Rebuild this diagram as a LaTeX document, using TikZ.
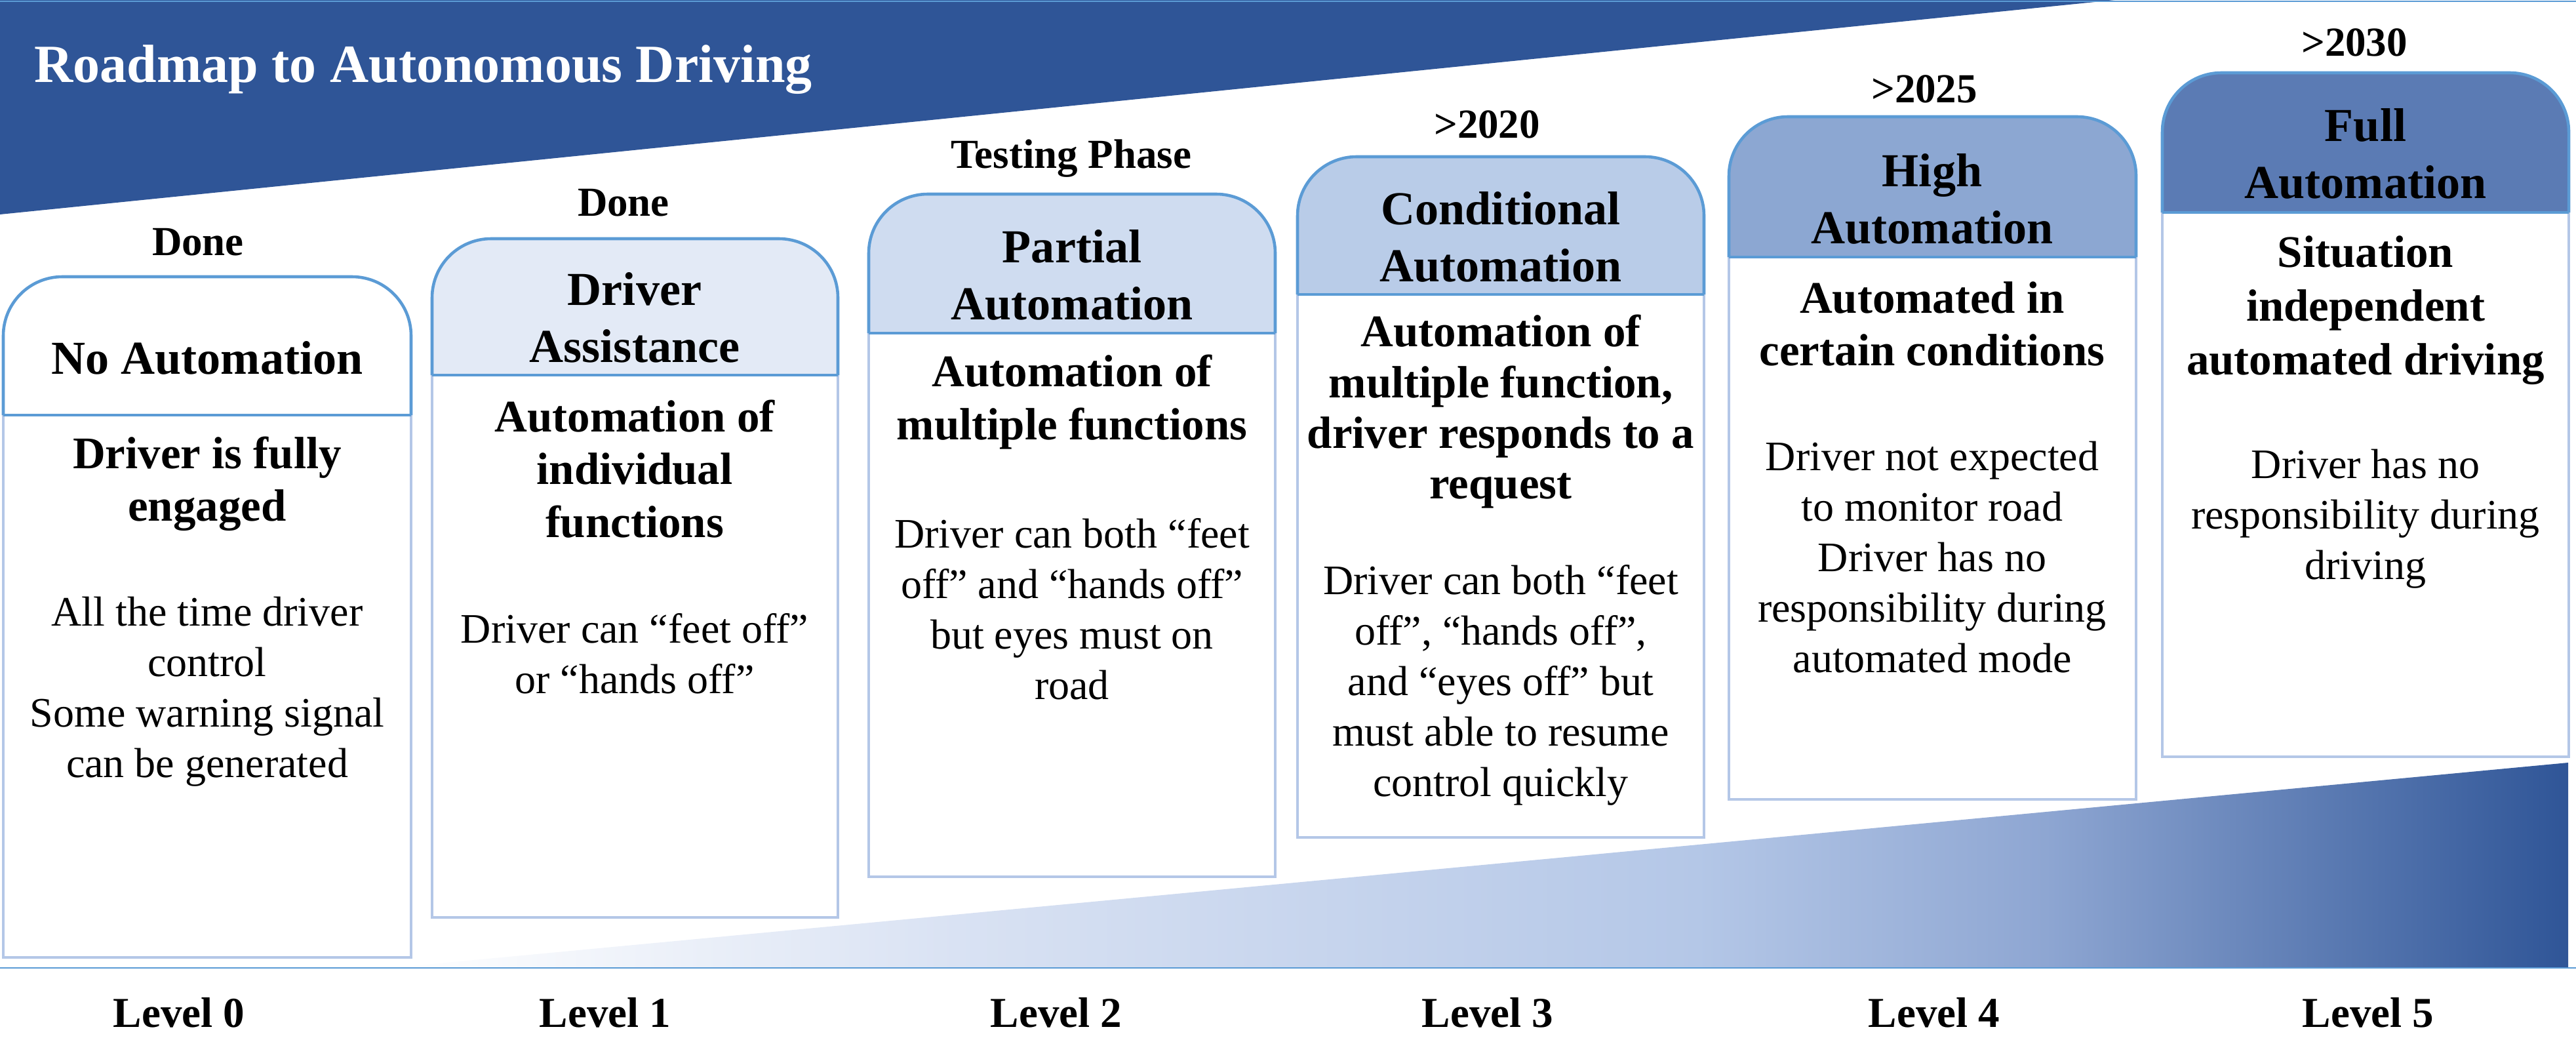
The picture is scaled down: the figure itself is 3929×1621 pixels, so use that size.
\documentclass[tikz,border=0pt]{standalone}
\usepackage{fontspec}
\setmainfont{Liberation Serif}
\usepackage{xcolor}
\usetikzlibrary{positioning}

\definecolor{navy}{HTML}{2F5597}
\definecolor{edgeblue}{HTML}{5B9BD5}
\definecolor{paleblue}{HTML}{B4C7E7}
\definecolor{rampA}{HTML}{D9E2F3}
\definecolor{rampC}{HTML}{8EA6D2}
\definecolor{hdrA}{HTML}{E3EAF6}
\definecolor{hdrB}{HTML}{CFDCF0}
\definecolor{hdrC}{HTML}{B9CCE8}
\definecolor{hdrD}{HTML}{8CA7D2}
\definecolor{hdrE}{HTML}{5B7BB4}
\pgfdeclarehorizontalshading{ramp}{100bp}{color(0bp)=(white); color(25bp)=(white); color(38bp)=(rampA); color(55bp)=(paleblue); color(63bp)=(rampC); color(75bp)=(navy); color(100bp)=(navy)}

\begin{document}
\begin{tikzpicture}[x=0.01cm, y=-0.01cm,
    yearlbl/.style={font=\bfseries\fontsize{17.9}{21}\selectfont},
    hdrtxt/.style={align=center, font=\bfseries\fontsize{20.5}{24.75}\selectfont},
    keytxt/.style={align=center, font=\bfseries\fontsize{19.6}{22.8}\selectfont},
    bodytxt/.style={align=center, font=\fontsize{18.2}{21.9}\selectfont},
    lvl/.style={font=\bfseries\fontsize{18.5}{22}\selectfont},
    hdrbox/.style={draw=edgeblue, line width=1.3pt, rounded corners=0.9cm},
    hdrline/.style={draw=edgeblue, line width=1.3pt},
    rule/.style={draw=edgeblue, line width=0.8pt},
    bodybox/.style={draw=paleblue, fill=white, line width=1.3pt}]
    \useasboundingbox (0,0) rectangle (3929,1621);
    \fill[navy] (0,0) -- (3225,0) -- (0,327) -- cycle;
    \draw[rule] (0,2) -- (3929,2);
    \node[anchor=base west, inner sep=0, text=white, font=\bfseries\fontsize{23.3}{28}\selectfont] (banner) at (52,125) {Roadmap to Autonomous Driving};
    \shade[shading=ramp] (595,1476) -- (3917,1163) -- (3917,1476) -- cycle;
    \draw[rule] (0,1476) -- (3929,1476);

    \draw[bodybox] (5,633) rectangle (627,1460);
    \draw[hdrbox, fill=white] (5,633) -- (5,422) -- (627,422) -- (627,633);
    \draw[hdrline] (5,633) -- (627,633);
    \node[yearlbl] (y0) at (302,369) {Done};
    \node[hdrtxt] (h0) at (316,546) {No Automation};
    \node[keytxt] (k0) at (316,738) {Driver is fully\\engaged};
    \node[bodytxt] (d0) at (316,1055) {All the time driver\\control\\Some warning signal\\can be generated};

    \draw[bodybox] (659,572) rectangle (1278,1399);
    \draw[hdrbox, fill=hdrA] (659,572) -- (659,364) -- (1278,364) -- (1278,572);
    \draw[hdrline] (659,572) -- (1278,572);
    \node[yearlbl] (y1) at (951,309) {Done};
    \node[hdrtxt] (h1) at (968,484) {Driver\\Assistance};
    \node[keytxt] (k1) at (968,715) {Automation of\\individual\\functions};
    \node[bodytxt] (d1) at (968,997) {Driver can “feet off”\\or “hands off”};

    \draw[bodybox] (1325,508) rectangle (1945,1337);
    \draw[hdrbox, fill=hdrB] (1325,508) -- (1325,296) -- (1945,296) -- (1945,508);
    \draw[hdrline] (1325,508) -- (1945,508);
    \node[yearlbl] (y2) at (1634,242) {Testing Phase};
    \node[hdrtxt] (h2) at (1635,419) {Partial\\Automation};
    \node[keytxt] (k2) at (1635,613) {Automation of\\multiple functions};
    \node[bodytxt] (d2) at (1635,929) {Driver can both “feet\\off” and “hands off”\\but eyes must on\\road};

    \draw[bodybox] (1979,449) rectangle (2599,1277);
    \draw[hdrbox, fill=hdrC] (1979,449) -- (1979,239) -- (2599,239) -- (2599,449);
    \draw[hdrline] (1979,449) -- (2599,449);
    \node[yearlbl] (y3) at (2268,190) {>2020};
    \node[hdrtxt] (h3) at (2289,361) {Conditional\\Automation};
    \node[keytxt, font=\bfseries\fontsize{19.6}{22}\selectfont] (k3) at (2289,628) {Automation of\\multiple function,\\driver responds to a\\request};
    \node[bodytxt] (d3) at (2289,1045) {Driver can both “feet\\off”, “hands off”,\\and “eyes off” but\\must able to resume\\control quickly};

    \draw[bodybox] (2637,392) rectangle (3258,1219);
    \draw[hdrbox, fill=hdrD] (2637,392) -- (2637,178) -- (3258,178) -- (3258,392);
    \draw[hdrline] (2637,392) -- (3258,392);
    \node[yearlbl] (y4) at (2935,136) {>2025};
    \node[hdrtxt] (h4) at (2947,303) {High\\Automation};
    \node[keytxt] (k4) at (2947,494) {Automated in\\certain conditions};
    \node[bodytxt] (d4) at (2947,850) {Driver not expected\\to monitor road\\Driver has no\\responsibility during\\automated mode};

    \draw[bodybox] (3298,324) rectangle (3918,1154);
    \draw[hdrbox, fill=hdrE] (3298,324) -- (3298,111) -- (3918,111) -- (3918,324);
    \draw[hdrline] (3298,324) -- (3918,324);
    \node[yearlbl] (y5) at (3591,65) {>2030};
    \node[hdrtxt] (h5) at (3608,234) {Full\\Automation};
    \node[keytxt, font=\bfseries\fontsize{19.6}{23.4}\selectfont] (k5) at (3608,473) {Situation\\independent\\automated driving};
    \node[bodytxt] (d5) at (3608,791) {Driver has no\\responsibility during\\driving};

    \node[lvl] (l0) at (273,1544) {Level 0};
    \node[lvl] (l1) at (923,1544) {Level 1};
    \node[lvl] (l2) at (1611,1544) {Level 2};
    \node[lvl] (l3) at (2269,1544) {Level 3};
    \node[lvl] (l4) at (2950,1544) {Level 4};
    \node[lvl] (l5) at (3612,1544) {Level 5};
  \end{tikzpicture}
\end{document}
